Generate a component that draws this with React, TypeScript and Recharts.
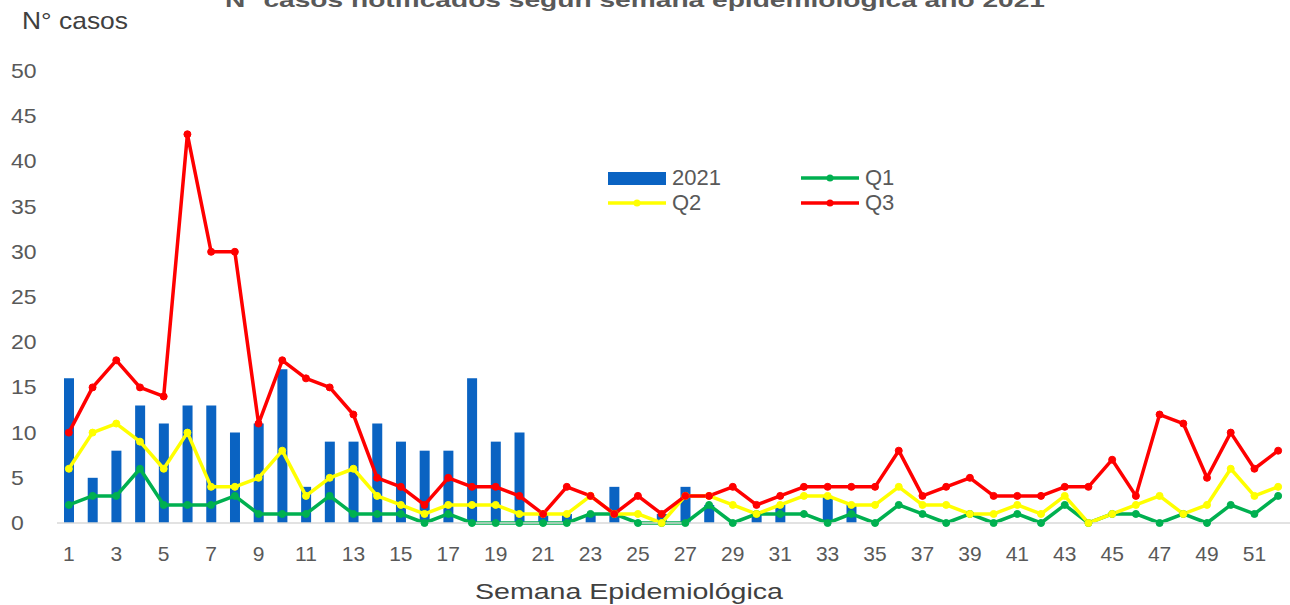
import React from 'react';
import { ComposedChart, Bar, Line, XAxis, YAxis, Legend } from 'recharts';

const weeks = [
  1, 2, 3, 4, 5, 6, 7, 8, 9, 10, 11, 12, 13, 14, 15, 16, 17, 18, 19, 20, 21, 22, 23, 24, 25, 26,
  27, 28, 29, 30, 31, 32, 33, 34, 35, 36, 37, 38, 39, 40, 41, 42, 43, 44, 45, 46, 47, 48, 49, 50, 51, 52,
];

const cases2021 = [
  16, 5, 8, 13, 11, 13, 13, 10, 11, 17, 4, 9, 9, 11, 9, 8, 8, 16, 9, 10, 1, 1, 1, 4, 0, 1,
  4, 2, 0, 1, 2, 0, 3, 2, 0, 0, 0, 0, 0, 0, 0, 0, 0, 0, 0, 0, 0, 0, 0, 0, 0, 0,
];

const q1 = [
  2, 3, 3, 6, 2, 2, 2, 3, 1, 1, 1, 3, 1, 1, 1, 0, 1, 0, 0, 0, 0, 0, 1, 1, 0, 0,
  0, 2, 0, 1, 1, 1, 0, 1, 0, 2, 1, 0, 1, 0, 1, 0, 2, 0, 1, 1, 0, 1, 0, 2, 1, 3,
];

const q2 = [
  6, 10, 11, 9, 6, 10, 4, 4, 5, 8, 3, 5, 6, 3, 2, 1, 2, 2, 2, 1, 1, 1, 3, 1, 1, 0,
  3, 3, 2, 1, 2, 3, 3, 2, 2, 4, 2, 2, 1, 1, 2, 1, 3, 0, 1, 2, 3, 1, 2, 6, 3, 4,
];

const q3 = [
  10, 15, 18, 15, 14, 43, 30, 30, 11, 18, 16, 15, 12, 5, 4, 2, 5, 4, 4, 3, 1, 4, 3, 1, 3, 1,
  3, 3, 4, 2, 3, 4, 4, 4, 4, 8, 3, 4, 5, 3, 3, 3, 4, 4, 7, 3, 12, 11, 5, 10, 6, 8,
];

const yTicks = [0, 5, 10, 15, 20, 25, 30, 35, 40, 45, 50];

const seriesNames = { cases: '2021', q1: 'Q1', q2: 'Q2', q3: 'Q3' };
const titleText = 'Nº casos notificados según semana epidemiológica año 2021';
const yAxisTitle = 'N° casos';
const xAxisTitle = 'Semana Epidemiológica';

const data = weeks.map((w, i) => ({
  week: String(w),
  cases: cases2021[i],
  q1: q1[i],
  q2: q2[i],
  q3: q3[i],
}));

const FONT = '"Liberation Sans", Arial, sans-serif';
const COLORS: Record<string, string> = {
  cases: '#0A63C2',
  q1: '#00B050',
  q2: '#FFFF00',
  q3: '#FF0000',
};

function XTick(props: any) {
  const { x, payload } = props;
  return (
    <text x={x} y={561} textAnchor="middle" fontSize={21} fill="#595959" fontFamily={FONT}>
      {payload.value}
    </text>
  );
}

function YTick(props: any) {
  const { y, payload } = props;
  return (
    <text
      transform={`translate(11, ${y + 7}) scale(1.15, 1)`}
      fontSize={20}
      fill="#595959"
      fontFamily={FONT}
    >
      {payload.value}
    </text>
  );
}

const legendPos: Record<string, { left: number; top: number }> = {
  cases: { left: 0, top: 0 },
  q1: { left: 193, top: 0 },
  q2: { left: 0, top: 25 },
  q3: { left: 193, top: 25 },
};

function LegendContent(props: any) {
  const payload = props.payload || [];
  return (
    <div style={{ position: 'relative', width: 320, height: 50 }}>
      {payload.map((p: any) => {
        const key = String(p.dataKey);
        const pos = legendPos[key] || { left: 0, top: 0 };
        const color = COLORS[key] || p.color;
        return (
          <div
            key={key}
            style={{
              position: 'absolute',
              left: pos.left,
              top: pos.top,
              height: 24,
              display: 'flex',
              alignItems: 'center',
              whiteSpace: 'nowrap',
            }}
          >
            {key === 'cases' ? (
              <div style={{ width: 58, height: 13, background: color }} />
            ) : (
              <svg width={58} height={12} style={{ display: 'block' }}>
                <line x1={0} y1={6} x2={58} y2={6} stroke={color} strokeWidth={3.5} />
                <circle cx={29} cy={6} r={3.5} fill={color} />
              </svg>
            )}
            <span
              style={{
                marginLeft: 6,
                fontFamily: FONT,
                fontSize: 22,
                color: '#595959',
                lineHeight: '24px',
              }}
            >
              {p.value}
            </span>
          </div>
        );
      })}
    </div>
  );
}

export default function App() {
  return (
    <div
      style={{
        position: 'absolute',
        left: 0,
        top: 0,
        width: 1290,
        height: 605,
        background: '#ffffff',
        overflow: 'hidden',
      }}
    >
      <ComposedChart
        width={1290}
        height={605}
        data={data}
        margin={{ top: 71, right: 0, left: 0, bottom: 52 }}
      >
        <XAxis
          dataKey="week"
          height={30}
          interval={1}
          tickLine={false}
          axisLine={{ stroke: '#D9D9D9', strokeWidth: 1.5 }}
          tick={XTick}
        />
        <YAxis
          width={57}
          domain={[0, 50]}
          ticks={yTicks}
          axisLine={false}
          tickLine={false}
          tick={YTick}
        />
        <Legend
          layout="horizontal"
          verticalAlign="middle"
          align="center"
          wrapperStyle={{ left: 608, top: 166, width: 320, height: 50 }}
          content={LegendContent}
        />
        <Bar
          dataKey="cases"
          name={seriesNames.cases}
          fill={COLORS.cases}
          barSize={10}
          isAnimationActive={false}
        />
        <Line
          dataKey="q1"
          name={seriesNames.q1}
          stroke={COLORS.q1}
          strokeWidth={3.5}
          strokeLinejoin="round"
          dot={{ r: 3.5, fill: COLORS.q1, stroke: COLORS.q1, strokeWidth: 1 }}
          activeDot={false}
          isAnimationActive={false}
        />
        <Line
          dataKey="q2"
          name={seriesNames.q2}
          stroke={COLORS.q2}
          strokeWidth={3.5}
          strokeLinejoin="round"
          dot={{ r: 3.5, fill: COLORS.q2, stroke: COLORS.q2, strokeWidth: 1 }}
          activeDot={false}
          isAnimationActive={false}
        />
        <Line
          dataKey="q3"
          name={seriesNames.q3}
          stroke={COLORS.q3}
          strokeWidth={3.5}
          strokeLinejoin="round"
          dot={{ r: 3.5, fill: COLORS.q3, stroke: COLORS.q3, strokeWidth: 1 }}
          activeDot={false}
          isAnimationActive={false}
        />
      </ComposedChart>
      <svg
        width={1290}
        height={605}
        style={{ position: 'absolute', left: 0, top: 0, pointerEvents: 'none' }}
      >
        <text
          x={635}
          y={7}
          textAnchor="middle"
          fontFamily={FONT}
          fontWeight="bold"
          fontSize={21}
          fill="#595959"
          textLength={820}
          lengthAdjust="spacingAndGlyphs"
        >
          {titleText}
        </text>
        <text
          x={22}
          y={29}
          fontFamily={FONT}
          fontSize={24}
          fill="#404040"
          textLength={106}
          lengthAdjust="spacingAndGlyphs"
        >
          {yAxisTitle}
        </text>
        <text
          x={629}
          y={599}
          textAnchor="middle"
          fontFamily={FONT}
          fontSize={22}
          fill="#404040"
          textLength={308}
          lengthAdjust="spacingAndGlyphs"
        >
          {xAxisTitle}
        </text>
      </svg>
    </div>
  );
}
